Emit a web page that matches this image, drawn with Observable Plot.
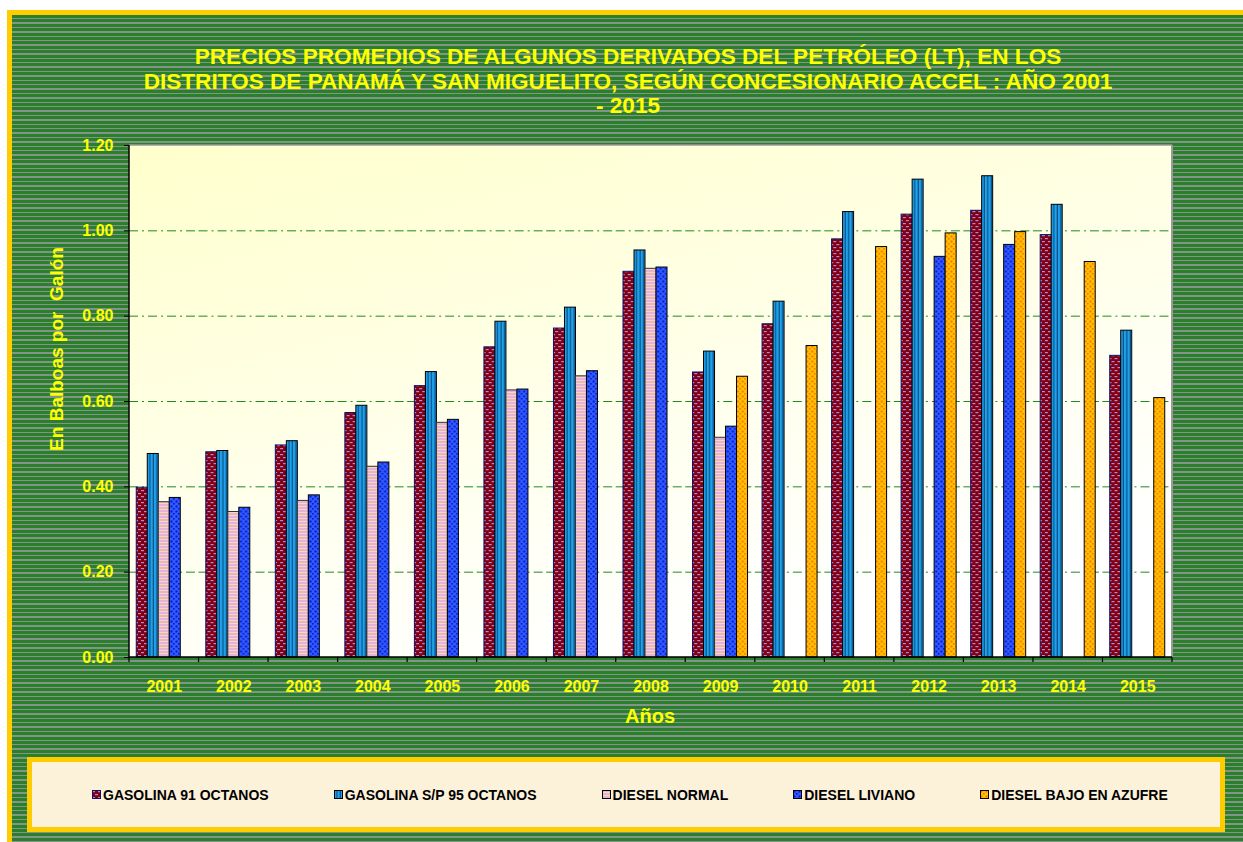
<!DOCTYPE html>
<html>
<head>
<meta charset="utf-8">
<script src="https://cdn.jsdelivr.net/npm/d3@7"></script>
<script src="https://cdn.jsdelivr.net/npm/@observablehq/plot@0.6"></script>
<style>
  html, body { margin: 0; padding: 0; background: #fff; }
  body { position: relative; width: 1243px; height: 842px; overflow: hidden; font-family: "Liberation Sans", Arial, sans-serif; }
  #frame {
    position: absolute; left: 7px; top: 10px; width: 1236px; height: 832px; box-sizing: border-box;
    border-left: 5px solid #ffcc00; border-top: 5px solid #ffcc00;
    background: repeating-linear-gradient(to bottom, #2a802a 0px, #2a802a 3px, #84948a 3px, #84948a 4.4px);
  }
  #title {
    position: absolute; left: 0; top: 45px; width: 1256px; text-align: center;
    color: #ffff00; font-weight: bold; font-size: 22.6px; line-height: 24.5px;
  }
  #chart { position: absolute; left: 0; top: 120px; }
  #ylabel {
    position: absolute; left: 57px; top: 349px; transform: translate(-50%, -50%) rotate(-90deg);
    color: #ffff00; font-weight: bold; font-size: 19px; white-space: pre;
  }
  #xlabel {
    position: absolute; left: 650px; top: 716px; transform: translate(-50%, -50%);
    color: #ffff00; font-weight: bold; font-size: 20px;
  }
  #legend {
    position: absolute; left: 27px; top: 757px; width: 1198px; height: 75px; box-sizing: border-box;
    border: 5px solid #ffcc00; background: #fcf1d9;
    display: flex; align-items: center; padding-left: 60px; gap: 65px;
  }
  .item { display: flex; align-items: center; font-weight: bold; font-size: 14px; color: #000; }
  .item svg { margin-right: 2px; }
</style>
</head>
<body>
<div id="frame"></div>
<div id="title">PRECIOS PROMEDIOS DE ALGUNOS DERIVADOS DEL PETRÓLEO (LT), EN LOS<br>DISTRITOS DE PANAMÁ Y SAN MIGUELITO, SEGÚN CONCESIONARIO ACCEL : AÑO 2001<br>- 2015</div>
<div id="chart"></div>
<div id="ylabel">En Balboas por  Galón</div>
<div id="xlabel">Años</div>
<div id="legend"></div>
<script>
const years = ["2001","2002","2003","2004","2005","2006","2007","2008","2009","2010","2011","2012","2013","2014","2015"];
const seriesNames = ["GASOLINA 91 OCTANOS","GASOLINA S/P 95 OCTANOS","DIESEL NORMAL","DIESEL LIVIANO","DIESEL BAJO EN AZUFRE"];
const gasolina91 = [0.398,0.481,0.497,0.573,0.636,0.727,0.771,0.904,0.668,0.781,0.980,1.038,1.047,0.990,0.707];
const gasolina95 = [0.477,0.484,0.507,0.590,0.669,0.787,0.820,0.954,0.717,0.834,1.044,1.120,1.128,1.061,0.766];
const dieselNormal = [0.364,0.341,0.367,0.447,0.550,0.626,0.659,0.911,0.515,null,null,null,null,null,null];
const dieselLiviano = [0.374,0.351,0.380,0.457,0.557,0.628,0.671,0.914,0.541,null,null,0.939,0.967,null,null];
const dieselAzufre = [null,null,null,null,null,null,null,null,0.658,0.730,0.962,0.994,0.997,0.927,0.608];
const yTicks = [0,0.2,0.4,0.6,0.8,1.0,1.2];
const gridValues = [0.2,0.4,0.6,0.8,1.0];

const seriesValues = [gasolina91, gasolina95, dieselNormal, dieselLiviano, dieselAzufre];
const fills = ["url(#p0)","url(#p1)","url(#p2)","url(#p3)","url(#p4)"];
const strokes = ["#10106a","#000","#333","#000","#000"];

const rows = [];
seriesNames.forEach((s, i) => {
  years.forEach((y, j) => {
    const v = seriesValues[i][j];
    if (v != null) rows.push({year: y, series: s, value: v});
  });
});

const plot = Plot.plot({
  width: 1243,
  height: 600,
  marginLeft: 129,
  marginRight: 71,
  marginTop: 25,
  marginBottom: 63,
  style: {background: "transparent", overflow: "visible"},
  fx: {domain: years, padding: 0, label: null, round: false},
  x: {domain: seriesNames, paddingInner: 0, paddingOuter: 0.66, round: false, axis: null},
  y: {domain: [0, 1.2], label: null},
  marks: [
    Plot.ruleY(gridValues, {stroke: "#1f8a1f", strokeWidth: 1, strokeDasharray: "9,4,2,4"}),
    ...seriesNames.map((s, i) =>
      Plot.barY(rows.filter(d => d.series === s), {
        fx: "year", x: "series", y: "value",
        fill: fills[i], stroke: strokes[i], strokeWidth: 1
      })
    ),
    Plot.axisY({ticks: yTicks, tickFormat: d => d.toFixed(2), tickSize: 5, tickPadding: 11,
      stroke: "#000", fill: "#ffff00", fontSize: 16, fontWeight: "bold", label: null}),
    Plot.axisFx({anchor: "bottom", tickSize: 0, tickPadding: 23, fill: "#ffff00", fontSize: 16, fontWeight: "bold", label: null})
  ]
});

document.getElementById("chart").appendChild(plot);

// pattern definitions and decorations using the plot's scales
const svg = d3.select(plot);
svg.style("font-family", '"Liberation Sans", Arial, sans-serif');
svg.selectAll("text").style("font-weight", "bold").attr("fill", "#ffff00");
const defs = svg.insert("defs", ":first-child");

function pat(id, w, h, bg, shapes) {
  const p = defs.append("pattern").attr("id", id).attr("patternUnits", "userSpaceOnUse")
    .attr("width", w).attr("height", h);
  p.append("rect").attr("width", w).attr("height", h).attr("fill", bg);
  shapes.forEach(([x, y, sw, sh, c]) => p.append("rect").attr("x", x).attr("y", y).attr("width", sw).attr("height", sh).attr("fill", c));
}
pat("p0", 6, 6, "#840010", [[0,1,3,1.2,"#a58fe0"],[3,4,3,1.2,"#a58fe0"]]);
pat("p1", 3.5, 4, "#1ea2e8", [[2.3,0,1.2,4,"#0c4f8c"]]);
pat("p2", 4, 3, "#e8b0dc", [[0,2,4,1,"#f6dca8"]]);
pat("p3", 5, 5, "#2f5cff", [[0.5,0.5,2,2,"#0a14c8"],[3,3,1.6,1.6,"#0a14c8"]]);
pat("p4", 5, 5, "#ffc400", [[0.5,0.5,2,2,"#ff6a00"],[3,3,1.6,1.6,"#ff6a00"]]);

const grad = defs.append("linearGradient").attr("id", "bggrad")
  .attr("x1", 0).attr("y1", 0).attr("x2", 0.5).attr("y2", 1);
grad.append("stop").attr("offset", 0).attr("stop-color", "#ffffcc");
grad.append("stop").attr("offset", 0.75).attr("stop-color", "#fffff4");
grad.append("stop").attr("offset", 1).attr("stop-color", "#ffffff");

const fx = plot.scale("fx");
const y = plot.scale("y");
const x0 = fx.range[0], x1 = fx.range[1];
const yTop = y.apply(1.2), yBot = y.apply(0);

const bg = svg.insert("g", "defs + *");
bg.append("rect").attr("x", x0).attr("y", yTop).attr("width", x1 - x0).attr("height", yBot - yTop)
  .attr("fill", "url(#bggrad)");
bg.append("line").attr("x1", x0).attr("x2", x1).attr("y1", yTop).attr("y2", yTop).attr("stroke", "#9a9a9a").attr("stroke-width", 1.5);
bg.append("line").attr("x1", x1).attr("x2", x1).attr("y1", yTop).attr("y2", yBot).attr("stroke", "#9a9a9a").attr("stroke-width", 2);

const fg = svg.append("g");
fg.append("line").attr("x1", x0).attr("x2", x0).attr("y1", yTop).attr("y2", yBot).attr("stroke", "#000").attr("stroke-width", 1.5);
fg.append("line").attr("x1", x0).attr("x2", x1).attr("y1", yBot).attr("y2", yBot).attr("stroke", "#000").attr("stroke-width", 1.5);
const bounds = years.map(v => fx.apply(v)).concat([fx.apply(years[years.length - 1]) + fx.bandwidth]);
bounds.forEach(b => fg.append("line").attr("x1", b).attr("x2", b).attr("y1", yBot).attr("y2", yBot + 5).attr("stroke", "#000").attr("stroke-width", 1.2));

// legend
const legend = d3.select("#legend");
seriesNames.forEach((s, i) => {
  const it = legend.append("div").attr("class", "item");
  const sw = it.append("svg").attr("width", 9).attr("height", 9);
  sw.append("rect").attr("x", 0.5).attr("y", 0.5).attr("width", 8).attr("height", 8)
    .attr("fill", fills[i]).attr("stroke", i === 0 ? "#10106a" : "#000");
  it.append("span").text(s);
});
</script>
</body>
</html>
